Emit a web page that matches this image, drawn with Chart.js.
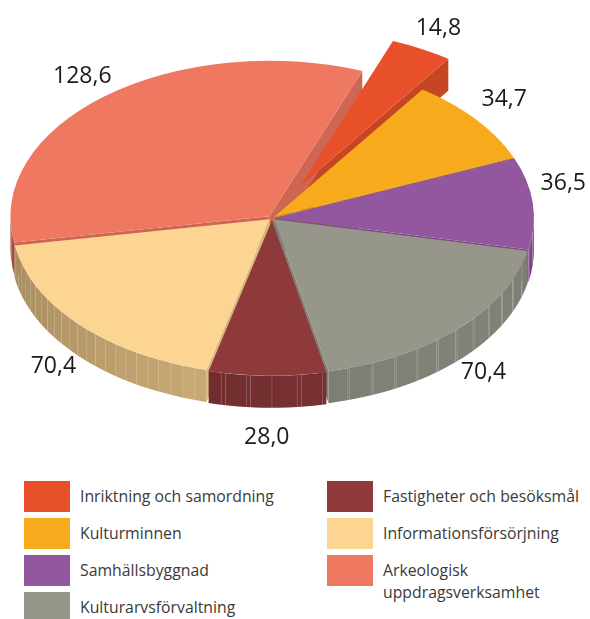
<!DOCTYPE html>
<html>
<head>
<meta charset="utf-8">
<script src="https://cdn.jsdelivr.net/npm/chart.js@4.4.1/dist/chart.umd.min.js"></script>
<style>
  html, body { margin: 0; padding: 0; background: #fff; }
  #wrap { position: relative; width: 590px; height: 619px; overflow: hidden; }
  #pie { position: absolute; left: 0; top: 0; }
  #legend {
    position: absolute; left: 24px; top: 481px;
    display: grid; grid-auto-flow: column;
    grid-template-columns: 303px 250px;
    grid-template-rows: repeat(4, 37px);
    font-family: "Open Sans", sans-serif; font-size: 15.8px; color: #3a3a3a;
  }
  .item { display: flex; align-items: flex-start; }
  .sw { width: 46px; height: 31px; flex: none; margin-right: 10px; }
  .txt { line-height: 22px; padding-top: 4px; white-space: nowrap; }
</style>
</head>
<body>
<div id="wrap">
  <canvas id="pie" width="590" height="460"></canvas>
  <div id="legend"></div>
</div>
<script>
const categories = [
  'Inriktning och samordning',
  'Kulturminnen',
  'Samhällsbyggnad',
  'Kulturarvsförvaltning',
  'Fastigheter och besöksmål',
  'Informationsförsörjning',
  ['Arkeologisk', 'uppdragsverksamhet']
];
const values = [14.8, 34.7, 36.5, 70.4, 28.0, 70.4, 128.6];
const colors = ['#E8502A', '#F6AA1C', '#92579E', '#96968A', '#8E3A3B', '#FCD592', '#EE7860'];
const explode = [60, 3, 3, 3, 4, 3, 4];

// look of the fake 3d
const TILT = 0.6;
const DEPTH = 32;

function shade(hex, f) {
  const n = parseInt(hex.slice(1), 16);
  const r = Math.round(((n >> 16) & 255) * f);
  const g = Math.round(((n >> 8) & 255) * f);
  const b = Math.round((n & 255) * f);
  return `rgb(${r},${g},${b})`;
}

// wall brightness, light comes from front right
function light(a) {
  return 0.6 + 0.26 * (Math.cos(a - Math.PI / 4) + 1) / 2;
}

function center(chart) {
  const a = chart.chartArea;
  return { cx: (a.left + a.right) / 2, cy: (a.top + a.bottom) / 2 };
}

const pie3d = {
  id: 'pie3d',
  afterDatasetsUpdate(chart) {
    const { cx, cy } = center(chart);
    chart.getDatasetMeta(0).data.forEach((el, i) => {
      const mid = (el.startAngle + el.endAngle) / 2;
      el.x = cx + Math.cos(mid) * explode[i];
      el.y = cy + Math.sin(mid) * explode[i];
    });
  },
  beforeDatasetsDraw(chart) {
    const ctx = chart.ctx;
    const { cx, cy } = center(chart);
    const ds = DEPTH / TILT;
    ctx.save();
    ctx.translate(cx, cy);
    ctx.scale(1, TILT);
    ctx.translate(-cx, -cy);

    let walls = [];
    chart.getDatasetMeta(0).data.forEach((el, i) => {
      const a0 = el.startAngle, a1 = el.endAngle;
      for (let k = -1; k <= 1; k++) {
        const lo = Math.max(a0, 2 * Math.PI * k);
        const hi = Math.min(a1, Math.PI + 2 * Math.PI * k);
        if (hi > lo) {
          walls.push({ kind: 'outer', el, i, lo, hi, key: el.y + el.outerRadius * Math.sin((lo + hi) / 2) });
        }
      }
      if (Math.cos(a1) > 0) walls.push({ kind: 'side', el, i, ang: a1, key: el.y + el.outerRadius * Math.sin(a1) / 2 });
      if (Math.cos(a0) < 0) walls.push({ kind: 'side', el, i, ang: a0, key: el.y + el.outerRadius * Math.sin(a0) / 2 });
    });
    walls.sort((p, q) => p.key - q.key);

    walls.forEach(w => {
      const { x, y, outerRadius: r } = w.el;
      const col = colors[w.i];
      if (w.kind === 'side') {
        const ex = x + r * Math.cos(w.ang), ey = y + r * Math.sin(w.ang);
        ctx.beginPath();
        ctx.moveTo(x, y);
        ctx.lineTo(ex, ey);
        ctx.lineTo(ex, ey + ds);
        ctx.lineTo(x, y + ds);
        ctx.closePath();
        ctx.fillStyle = shade(col, 0.86);
        ctx.fill();
        return;
      }
      const step = Math.PI / 32;
      let a = w.lo;
      while (a < w.hi - 1e-6) {
        const b = Math.min(w.hi, a + step);
        ctx.beginPath();
        ctx.arc(x, y, r, a, b);
        ctx.arc(x, y + ds, r, b, a, true);
        ctx.closePath();
        ctx.fillStyle = shade(col, light((a + b) / 2));
        ctx.fill();
        a = b;
      }
      // thin seams on the wall
      ctx.strokeStyle = 'rgba(255,255,255,0.3)';
      ctx.lineWidth = 0.8;
      for (let s = Math.ceil(w.lo / step) * step; s < w.hi; s += step) {
        const sx = x + r * Math.cos(s), sy = y + r * Math.sin(s);
        ctx.beginPath();
        ctx.moveTo(sx, sy);
        ctx.lineTo(sx, sy + ds);
        ctx.stroke();
      }
    });
  },
  afterDatasetsDraw(chart) {
    const ctx = chart.ctx;
    ctx.restore();
    const { cy } = center(chart);
    ctx.save();
    ctx.font = '23px "Open Sans", sans-serif';
    ctx.fillStyle = '#1a1a1a';
    ctx.textAlign = 'center';
    ctx.textBaseline = 'middle';
    chart.getDatasetMeta(0).data.forEach((el, i) => {
      const mid = (el.startAngle + el.endAngle) / 2;
      const c = Math.cos(mid), s = Math.sin(mid);
      const rimX = el.x + el.outerRadius * c;
      let rimY = cy + (el.y - cy + el.outerRadius * s) * TILT;
      if (s > 0) rimY += DEPTH * s;
      const txt = values[i].toFixed(1).replace('.', ',');
      const hw = ctx.measureText(txt).width / 2;
      let lx = rimX + 36 * c;
      lx = Math.max(hw + 4, Math.min(chart.width - hw - 4, lx));
      const ly = rimY + (s < 0 ? -20 : 30 * s);
      ctx.fillText(txt, lx, ly);
    });
    ctx.restore();
  }
};

const chart = new Chart(document.getElementById('pie'), {
  type: 'pie',
  data: {
    labels: categories,
    datasets: [{
      data: values,
      backgroundColor: colors,
      borderWidth: 0,
      clip: false
    }]
  },
  options: {
    responsive: false,
    animation: false,
    devicePixelRatio: 1,
    rotation: 21,
    radius: 259,
    layout: { padding: { left: 0, right: 46, top: 0, bottom: 24 } },
    plugins: {
      legend: { display: false },
      tooltip: { enabled: false }
    }
  },
  plugins: [pie3d]
});

// legend in two columns, filled top to bottom
const legend = document.getElementById('legend');
chart.data.labels.forEach((label, i) => {
  const item = document.createElement('div');
  item.className = 'item';
  const sw = document.createElement('div');
  sw.className = 'sw';
  sw.style.background = chart.data.datasets[0].backgroundColor[i];
  const txt = document.createElement('div');
  txt.className = 'txt';
  txt.innerHTML = Array.isArray(label) ? label.join('<br>') : label;
  item.appendChild(sw);
  item.appendChild(txt);
  legend.appendChild(item);
});
</script>
</body>
</html>
